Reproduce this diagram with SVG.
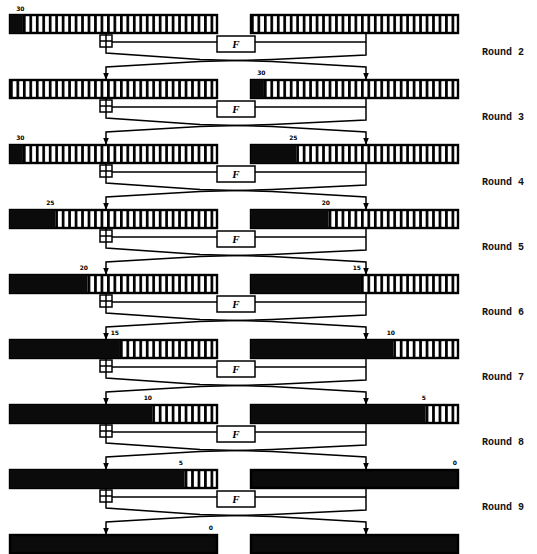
<svg xmlns="http://www.w3.org/2000/svg" width="537" height="554" viewBox="0 0 537 554">
<style>
.reg{stroke:#000;stroke-width:2.4}
.blk{fill:#0b0b0b}
.ln{fill:none;stroke:#000;stroke-width:1.5}
.xor{fill:#fff;stroke:#000;stroke-width:1.5}
.fb{fill:#fff;stroke:#000;stroke-width:1.5}
.ft{font-family:"Liberation Serif",serif;font-style:italic;font-weight:bold;font-size:11px;text-anchor:middle;fill:#000}
.num{font-family:"DejaVu Sans",sans-serif;font-weight:bold;font-size:6px;text-anchor:end;fill:#000}
.rl{font-family:"Liberation Mono",monospace;font-weight:bold;font-size:10px;fill:#111}
</style>
<defs>
<pattern id="cL" patternUnits="userSpaceOnUse" x="10" y="0" width="6.46875" height="554"><rect width="6.46875" height="554" fill="#fff"/><rect width="2.7" height="554" fill="#000"/></pattern>
<pattern id="cR" patternUnits="userSpaceOnUse" x="251" y="0" width="6.46875" height="554"><rect width="6.46875" height="554" fill="#fff"/><rect width="2.7" height="554" fill="#000"/></pattern>
<marker id="ah" viewBox="0 0 10 10" refX="10" refY="5" markerUnits="userSpaceOnUse" markerWidth="7" markerHeight="7" orient="auto"><path d="M0,1 L10,5 L0,9 z" fill="#000"/></marker>
<g id="xorsym"><rect class="xor" x="0" y="0" width="12" height="12"/><path class="ln" d="M6,0 V12 M0,6 H12"/></g>
</defs>

<g id="connectors">
<!-- round 0 -->
<path class="ln" d="M106,33 V35 M112,42 H217 M255,42 H366"/>
<path class="ln" d="M106,47 V53 L200,59.5 L272,61.5 L366,67 V80" marker-end="url(#ah)"/>
<path class="ln" d="M366,33 V55 L272,59.5 L200,61.5 L106,67 V80" marker-end="url(#ah)"/>
<!-- round 1 -->
<path class="ln" d="M106,98 V100 M112,107 H217 M255,107 H366"/>
<path class="ln" d="M106,112 V118 L200,124.5 L272,126.5 L366,132 V145" marker-end="url(#ah)"/>
<path class="ln" d="M366,98 V120 L272,124.5 L200,126.5 L106,132 V145" marker-end="url(#ah)"/>
<!-- round 2 -->
<path class="ln" d="M106,163 V165 M112,172 H217 M255,172 H366"/>
<path class="ln" d="M106,177 V183 L200,189.5 L272,191.5 L366,197 V210" marker-end="url(#ah)"/>
<path class="ln" d="M366,163 V185 L272,189.5 L200,191.5 L106,197 V210" marker-end="url(#ah)"/>
<!-- round 3 -->
<path class="ln" d="M106,228 V230 M112,237 H217 M255,237 H366"/>
<path class="ln" d="M106,242 V248 L200,254.5 L272,256.5 L366,262 V275" marker-end="url(#ah)"/>
<path class="ln" d="M366,228 V250 L272,254.5 L200,256.5 L106,262 V275" marker-end="url(#ah)"/>
<!-- round 4 -->
<path class="ln" d="M106,293 V295 M112,302 H217 M255,302 H366"/>
<path class="ln" d="M106,307 V313 L200,319.5 L272,321.5 L366,327 V340" marker-end="url(#ah)"/>
<path class="ln" d="M366,293 V315 L272,319.5 L200,321.5 L106,327 V340" marker-end="url(#ah)"/>
<!-- round 5 -->
<path class="ln" d="M106,358 V360 M112,367 H217 M255,367 H366"/>
<path class="ln" d="M106,372 V378 L200,384.5 L272,386.5 L366,392 V405" marker-end="url(#ah)"/>
<path class="ln" d="M366,358 V380 L272,384.5 L200,386.5 L106,392 V405" marker-end="url(#ah)"/>
<!-- round 6 -->
<path class="ln" d="M106,423 V425 M112,432 H217 M255,432 H366"/>
<path class="ln" d="M106,437 V443 L200,449.5 L272,451.5 L366,457 V470" marker-end="url(#ah)"/>
<path class="ln" d="M366,423 V445 L272,449.5 L200,451.5 L106,457 V470" marker-end="url(#ah)"/>
<!-- round 7 -->
<path class="ln" d="M106,488 V490 M112,497 H217 M255,497 H366"/>
<path class="ln" d="M106,502 V508 L200,514.5 L272,516.5 L366,522 V535" marker-end="url(#ah)"/>
<path class="ln" d="M366,488 V510 L272,514.5 L200,516.5 L106,522 V535" marker-end="url(#ah)"/>
</g>

<!-- registers -->
<g id="L0"><rect class="reg" x="10" y="15" width="207" height="18" fill="url(#cL)"/><rect class="blk" x="10" y="15" width="12.94" height="18"/><text class="num" x="24.5" y="11">30</text></g>
<g id="R0"><rect class="reg" x="251" y="15" width="207" height="18" fill="url(#cR)"/></g>

<g id="L1"><rect class="reg" x="10" y="80" width="207" height="18" fill="url(#cL)"/></g>
<g id="R1"><rect class="reg" x="251" y="80" width="207" height="18" fill="url(#cR)"/><rect class="blk" x="251" y="80" width="12.94" height="18"/><text class="num" x="265.5" y="75">30</text></g>

<g id="L2"><rect class="reg" x="10" y="145" width="207" height="18" fill="url(#cL)"/><rect class="blk" x="10" y="145" width="12.94" height="18"/><text class="num" x="24.5" y="140">30</text></g>
<g id="R2"><rect class="reg" x="251" y="145" width="207" height="18" fill="url(#cR)"/><rect class="blk" x="251" y="145" width="45.28" height="18"/><text class="num" x="297.5" y="140">25</text></g>

<g id="L3"><rect class="reg" x="10" y="210" width="207" height="18" fill="url(#cL)"/><rect class="blk" x="10" y="210" width="45.28" height="18"/><text class="num" x="54.5" y="205">25</text></g>
<g id="R3"><rect class="reg" x="251" y="210" width="207" height="18" fill="url(#cR)"/><rect class="blk" x="251" y="210" width="77.63" height="18"/><text class="num" x="330" y="205">20</text></g>

<g id="L4"><rect class="reg" x="10" y="275" width="207" height="18" fill="url(#cL)"/><rect class="blk" x="10" y="275" width="77.63" height="18"/><text class="num" x="88" y="270">20</text></g>
<g id="R4"><rect class="reg" x="251" y="275" width="207" height="18" fill="url(#cR)"/><rect class="blk" x="251" y="275" width="109.97" height="18"/><text class="num" x="361" y="270">15</text></g>

<g id="L5"><rect class="reg" x="10" y="340" width="207" height="18" fill="url(#cL)"/><rect class="blk" x="10" y="340" width="109.97" height="18"/><text class="num" x="119" y="335">15</text></g>
<g id="R5"><rect class="reg" x="251" y="340" width="207" height="18" fill="url(#cR)"/><rect class="blk" x="251" y="340" width="142.31" height="18"/><text class="num" x="395" y="335">10</text></g>

<g id="L6"><rect class="reg" x="10" y="405" width="207" height="18" fill="url(#cL)"/><rect class="blk" x="10" y="405" width="142.31" height="18"/><text class="num" x="152" y="400">10</text></g>
<g id="R6"><rect class="reg" x="251" y="405" width="207" height="18" fill="url(#cR)"/><rect class="blk" x="251" y="405" width="174.66" height="18"/><text class="num" x="426" y="400">5</text></g>

<g id="L7"><rect class="reg" x="10" y="470" width="207" height="18" fill="url(#cL)"/><rect class="blk" x="10" y="470" width="174.66" height="18"/><text class="num" x="183" y="465">5</text></g>
<g id="R7"><rect class="reg blk" x="251" y="470" width="207" height="18"/><text class="num" x="457" y="465">0</text></g>

<g id="L8"><rect class="reg blk" x="10" y="535" width="207" height="18"/><text class="num" x="213" y="530">0</text></g>
<g id="R8"><rect class="reg blk" x="251" y="535" width="207" height="18"/></g>

<!-- XOR and F nodes -->
<g id="X0"><use href="#xorsym" x="100" y="35"/></g>
<g id="F0"><rect class="fb" x="217" y="36" width="38" height="16"/><text class="ft" x="236" y="48">F</text></g>
<g id="X1"><use href="#xorsym" x="100" y="100"/></g>
<g id="F1"><rect class="fb" x="217" y="101" width="38" height="16"/><text class="ft" x="236" y="113">F</text></g>
<g id="X2"><use href="#xorsym" x="100" y="165"/></g>
<g id="F2"><rect class="fb" x="217" y="166" width="38" height="16"/><text class="ft" x="236" y="178">F</text></g>
<g id="X3"><use href="#xorsym" x="100" y="230"/></g>
<g id="F3"><rect class="fb" x="217" y="231" width="38" height="16"/><text class="ft" x="236" y="243">F</text></g>
<g id="X4"><use href="#xorsym" x="100" y="295"/></g>
<g id="F4"><rect class="fb" x="217" y="296" width="38" height="16"/><text class="ft" x="236" y="308">F</text></g>
<g id="X5"><use href="#xorsym" x="100" y="360"/></g>
<g id="F5"><rect class="fb" x="217" y="361" width="38" height="16"/><text class="ft" x="236" y="373">F</text></g>
<g id="X6"><use href="#xorsym" x="100" y="425"/></g>
<g id="F6"><rect class="fb" x="217" y="426" width="38" height="16"/><text class="ft" x="236" y="438">F</text></g>
<g id="X7"><use href="#xorsym" x="100" y="490"/></g>
<g id="F7"><rect class="fb" x="217" y="491" width="38" height="16"/><text class="ft" x="236" y="503">F</text></g>

<!-- round labels -->
<g id="labels">
<text class="rl" x="482" y="55">Round 2</text>
<text class="rl" x="482" y="120">Round 3</text>
<text class="rl" x="482" y="185">Round 4</text>
<text class="rl" x="482" y="250">Round 5</text>
<text class="rl" x="482" y="315">Round 6</text>
<text class="rl" x="482" y="380">Round 7</text>
<text class="rl" x="482" y="445">Round 8</text>
<text class="rl" x="482" y="510">Round 9</text>
</g>
</svg>
